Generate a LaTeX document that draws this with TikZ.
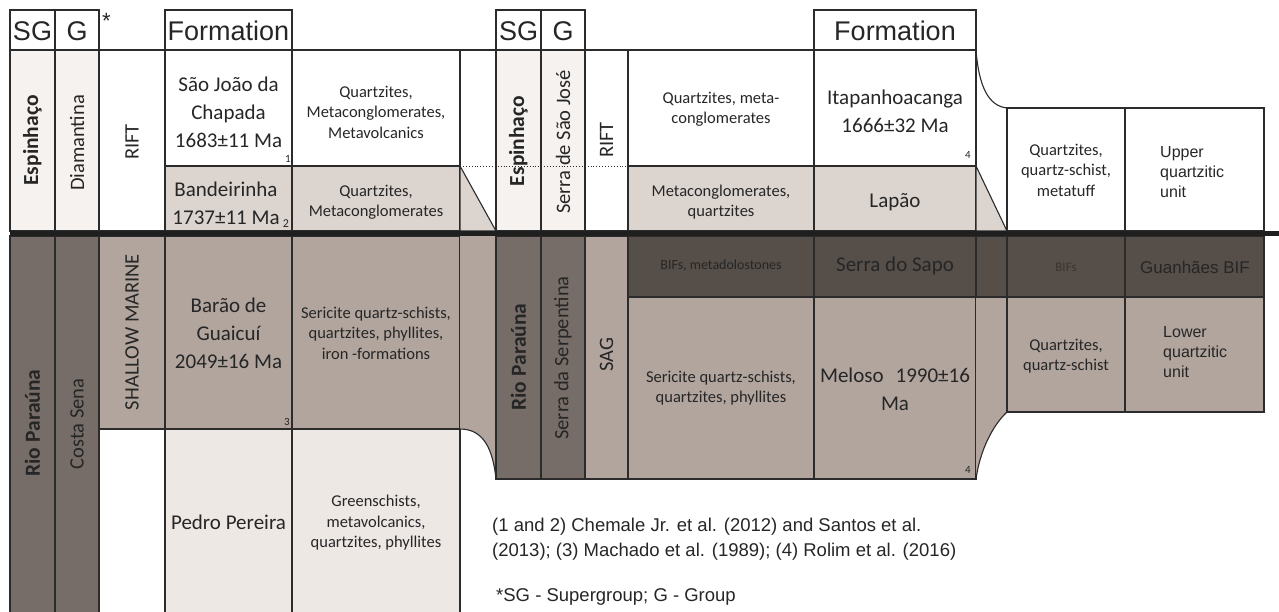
\documentclass[tikz,border=0pt]{standalone}
\usepackage{fontspec}
\setmainfont{Carlito}
\newfontfamily\arialf{Liberation Sans}
\definecolor{cDark}{HTML}{776D68}
\definecolor{cMid}{HTML}{B1A59E}
\definecolor{cBif}{HTML}{564E49}
\definecolor{cLight}{HTML}{DCD4CF}
\definecolor{cPale}{HTML}{F6F2F0}
\definecolor{cPedro}{HTML}{EEE8E5}
\definecolor{cLine}{HTML}{2B2B2B}
\definecolor{cText}{HTML}{262626}
\definecolor{cFaint}{HTML}{3A3431}
\tikzset{
  gl/.style={draw=cLine, line width=1.1pt},
  lbl/.style={text=cText, inner sep=0pt, align=center},
  fmn/.style={lbl, font=\fontsize{21}{28}\selectfont},
  lith/.style={lbl, font=\fontsize{16.5}{20.5}\selectfont},
  vert/.style={lbl, rotate=90, font=\fontsize{20.5}{24}\selectfont},
  vbold/.style={lbl, rotate=90, font=\fontsize{21.5}{26}\selectfont\bfseries},
  hdr/.style={lbl, font=\arialf\fontsize{27}{30}\selectfont},
  tiny/.style={lbl, font=\fontsize{11}{12}\selectfont},
  unitlbl/.style={lbl, align=left, anchor=west, font=\arialf\fontsize{16}{20}\selectfont},
  notes/.style={lbl, align=left, anchor=west, font=\arialf\fontsize{18.5}{24.5}\selectfont},
}
\begin{document}
\begin{tikzpicture}[x=1pt,y=-1pt]
\useasboundingbox (0,0) rectangle (1279,611);
% ---------- left table header
\draw[gl] (10,10) rectangle (55,50);
\draw[gl] (55,10) rectangle (99,50);
\draw[gl] (165,10) rectangle (292,50);
% ---------- left table upper
\filldraw[gl,fill=cPale] (10,50) rectangle (55,231);
\filldraw[gl,fill=cPale] (55,50) rectangle (99,231);
\draw[gl] (99,50) rectangle (165,231);
\draw[gl] (165,50) rectangle (292,166);
\draw[gl] (292,50) rectangle (460,166);
\filldraw[gl,fill=cLight] (165,166) rectangle (292,231);
\filldraw[gl,fill=cLight] (292,166) rectangle (460,231);
% left connector upper
\draw[gl] (460,50) -- (496,50);
\filldraw[gl,fill=cLight] (460,166) -- (496,231) -- (460,231) -- cycle;
% ---------- left table lower
\filldraw[gl,fill=cDark] (10,236) rectangle (55,615);
\filldraw[gl,fill=cDark] (55,236) rectangle (99,615);
\filldraw[gl,fill=cMid] (99,236) rectangle (165,429);
\draw[gl] (99,429) rectangle (165,615);
\filldraw[gl,fill=cMid] (165,236) rectangle (292,429);
\filldraw[gl,fill=cMid] (292,236) rectangle (460,429);
\filldraw[gl,fill=cPedro] (165,429) rectangle (292,615);
\filldraw[gl,fill=cPedro] (292,429) rectangle (460,615);
% left connector lower
\fill[cMid] (460,236) -- (496,236) -- (496,479) .. controls (493,450) and (484,429) .. (460,429) -- cycle;
\draw[gl] (460,429) .. controls (484,429) and (493,450) .. (496,479);
% ---------- right table header
\draw[gl] (496,10) rectangle (541,50);
\draw[gl] (541,10) rectangle (585,50);
\draw[gl] (814,10) rectangle (976,50);
% ---------- right table upper
\filldraw[gl,fill=cPale] (496,50) rectangle (541,231);
\filldraw[gl,fill=cPale] (541,50) rectangle (585,231);
\draw[gl] (585,50) rectangle (628,231);
\draw[gl] (628,50) rectangle (814,166);
\draw[gl] (814,50) rectangle (976,166);
\filldraw[gl,fill=cLight] (628,166) rectangle (814,231);
\filldraw[gl,fill=cLight] (814,166) rectangle (976,231);
% right connector upper
\draw[gl] (976,50) .. controls (979,88) and (989,106) .. (1007,108);
\filldraw[gl,fill=cLight] (976,166) -- (1007,231) -- (976,231) -- cycle;
% right block upper
\draw[gl] (1007,108) rectangle (1125,231);
\draw[gl] (1125,108) rectangle (1264,231);
% ---------- right table lower
\filldraw[gl,fill=cDark] (496,236) rectangle (541,479);
\filldraw[gl,fill=cDark] (541,236) rectangle (585,479);
\filldraw[gl,fill=cMid] (585,236) rectangle (628,479);
\filldraw[gl,fill=cBif] (628,236) rectangle (814,297);
\filldraw[gl,fill=cBif] (814,236) rectangle (976,297);
\filldraw[gl,fill=cMid] (628,297) rectangle (814,479);
\filldraw[gl,fill=cMid] (814,297) rectangle (976,479);
% right connector lower
\filldraw[gl,fill=cBif] (976,236) rectangle (1007,297);
\fill[cMid] (976,297) -- (1007,297) -- (1007,412) .. controls (993,425) and (980,450) .. (976,479) -- cycle;
\draw[gl] (1007,412) .. controls (993,425) and (980,450) .. (976,479);
\draw[gl] (976,297) -- (1007,297);
% right block lower
\filldraw[gl,fill=cBif] (1007,236) rectangle (1125,297);
\filldraw[gl,fill=cBif] (1125,236) rectangle (1264,297);
\filldraw[gl,fill=cMid] (1007,297) rectangle (1125,412);
\filldraw[gl,fill=cMid] (1125,297) rectangle (1264,412);
% dotted boundary and thick boundary
\draw[cLine, line width=0.9pt, dotted] (460,166) -- (628,166);
\draw[black!88, line width=4.5pt] (10,233.5) -- (1279,233.5);
% ---------- left texts
\node[hdr] (hSG) at (32.5,31) {SG};
\node[hdr] (hG) at (77,31) {G};
\node[lbl, font=\arialf\fontsize{22}{22}\selectfont] (star) at (106.5,21) {*};
\node[hdr] (hF) at (228.5,31) {Formation};
\node[vbold] (esp1) at (32.5,140.5) {Espinhaço};
\node[vert] (dia) at (77,143) {Diamantina};
\node[vert] (rift1) at (132,142) {RIFT};
\node[fmn] (sjc) at (228.5,112) {São João da\\Chapada\\1683±11 Ma};
\node[tiny] (n1) at (288,159) {1};
\node[lith] (l1) at (376,112) {Quartzites,\\Metaconglomerates,\\Metavolcanics};
\node[fmn] (band) at (226,203) {Bandeirinha\\1737±11 Ma};
\node[tiny, font=\fontsize{12}{12}\selectfont] (n2) at (286,224) {2};
\node[lith] (l2) at (376,202) {Quartzites,\\Metaconglomerates};
\node[vbold] (rio1) at (32.5,423) {Rio Paraúna};
\node[vert] (cs) at (77,424) {Costa Sena};
\node[vert] (sm) at (132,332) {SHALLOW MARINE};
\node[fmn] (bar) at (228.5,333) {Barão de\\Guaicuí\\2049±16 Ma};
\node[tiny] (n3) at (287,422) {3};
\node[lith] (l3) at (376,333) {Sericite quartz-schists,\\quartzites, phyllites,\\iron -formations};
\node[fmn] (pp) at (228.5,522) {Pedro Pereira};
\node[lith] (l4) at (376,523) {Greenschists,\\metavolcanics,\\quartzites, phyllites};
% ---------- right texts
\node[hdr] (hSG2) at (518.5,31) {SG};
\node[hdr] (hG2) at (563,31) {G};
\node[hdr] (hF2) at (895,31) {Formation};
\node[vbold] (esp2) at (518.5,141) {Espinhaço};
\node[vert] (ssj) at (563,142) {Serra de São José};
\node[vert] (rift2) at (606.5,140) {RIFT};
\node[lith] (l5) at (721,109) {Quartzites, meta-\\conglomerates};
\node[fmn] (ita) at (895,111) {Itapanhoacanga\\1666±32 Ma};
\node[tiny] (n4a) at (968,155) {4};
\node[lith] (l6) at (721,202) {Metaconglomerates,\\quartzites};
\node[fmn] (lap) at (895,202) {Lapão};
\node[vbold] (rio2) at (518.5,357) {Rio Paraúna};
\node[vert] (ssp) at (563,358) {Serra da Serpentina};
\node[vert] (sag) at (606.5,355) {SAG};
\node[lith, font=\fontsize{14}{16}\selectfont] (l7) at (721,266) {BIFs, metadolostones};
\node[fmn] (sapo) at (895,266) {Serra do Sapo};
\node[lith] (l8) at (721,388) {Sericite quartz-schists,\\quartzites, phyllites};
\node[fmn] (mel) at (895,389) {Meloso\hspace{12pt}1990±16\\Ma};
\node[tiny] (n4b) at (968,470) {4};
% ---------- right block texts
\node[lith] (l9) at (1066,170) {Quartzites,\\quartz-schist,\\metatuff};
\node[unitlbl] (upq) at (1160,172) {Upper\\quartzitic\\unit};
\node[lbl, text=cFaint, font=\fontsize{13}{14}\selectfont] (bifs) at (1066,267) {BIFs};
\node[lbl, font=\arialf\fontsize{17}{20}\selectfont] (guan) at (1195,267) {Guanhães BIF};
\node[lith] (l10) at (1066,356) {Quartzites,\\quartz-schist};
\node[unitlbl] (loq) at (1163,352) {Lower\\quartzitic\\unit};
% ---------- notes
\node[notes] (refs) at (492,539) {(1 and 2) Chemale Jr. et al. (2012) and Santos et al.\\(2013); (3) Machado et al. (1989); (4) Rolim et al. (2016)};
\node[notes] (abbr) at (496,597) {*SG - Supergroup; G - Group};
\end{tikzpicture}
\end{document}
